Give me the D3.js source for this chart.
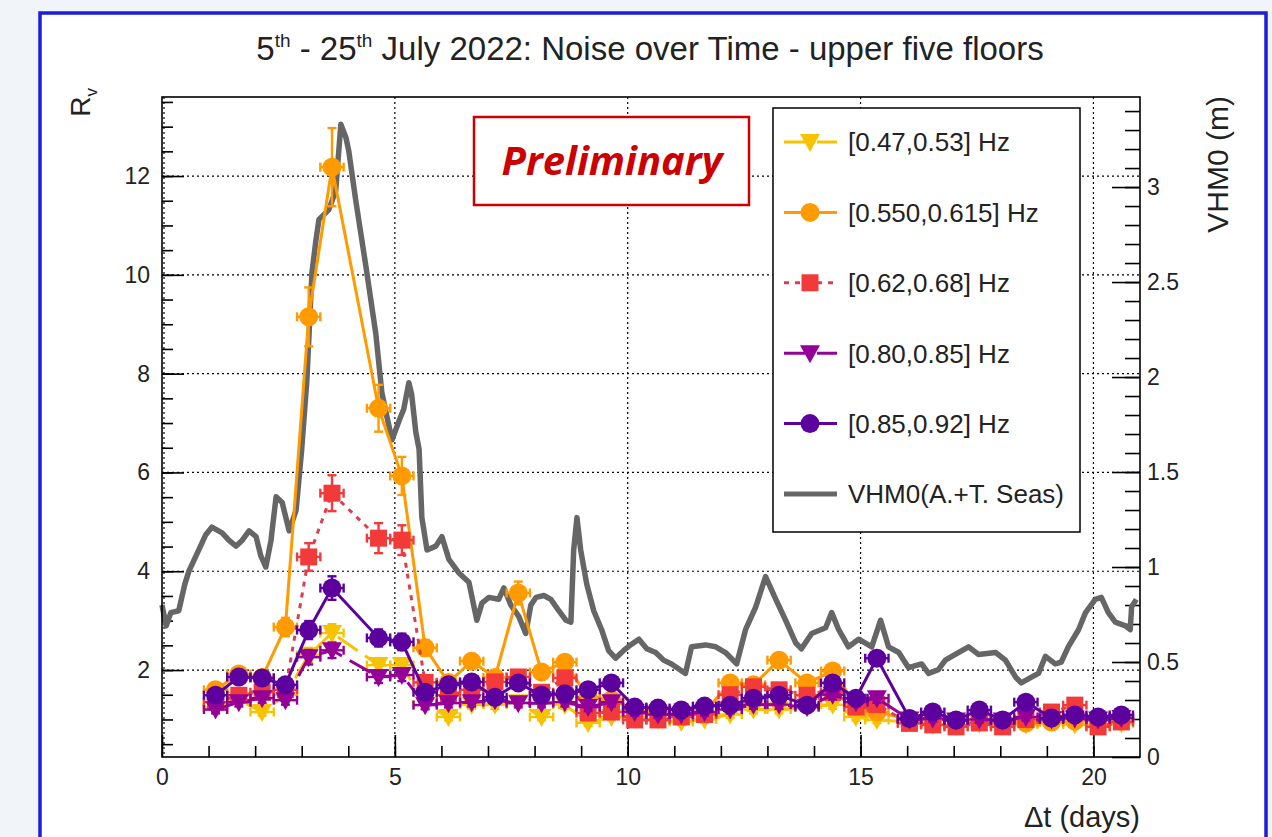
<!DOCTYPE html>
<html>
<head>
<meta charset="utf-8">
<script src="https://cdn.jsdelivr.net/npm/d3@7"></script>
<style>
  body { margin: 0; background: #f1f5f9; }
  svg text { font-family: "Liberation Sans", Arial, sans-serif; fill: #222; }
</style>
</head>
<body>
<script>
// time of each measurement window (days since 5th July)
var days = [1.15, 1.65, 2.15, 2.65, 3.15, 3.65, 4.65, 5.15, 5.65, 6.15, 6.65, 7.15, 7.65, 8.15, 8.65, 9.15, 9.65, 10.15, 10.65,
            11.15, 11.65, 12.2, 12.7, 13.25, 13.85, 14.4, 14.9, 15.35, 16.05, 16.55, 17.05, 17.55, 18.05, 18.55, 19.1, 19.6, 20.1, 20.6];

var band047 = [1.25, 1.40, 1.15, 1.50, 2.30, 2.75, 2.10, 2.10, 1.30, 1.05, 1.30, 1.30, 1.35, 1.05, 1.30, 0.93, 1.05, 1.05, 1.00,
               0.95, 1.00, 1.10, 1.20, 1.20, 1.25, 1.30, 1.05, 0.99, 0.95, 0.90, 0.88, 0.92, 0.88, 0.90, 0.95, 0.90, 0.88, 0.92];
var band055 = [1.60, 1.92, 1.85, 2.87, 9.15, 12.18, 7.30, 5.93, 2.45, 1.75, 2.18, 1.85, 3.56, 1.96, 2.16, 1.45, 1.40, 1.20, 1.15,
               1.10, 1.15, 1.74, 1.70, 2.20, 1.74, 1.98, 1.30, 1.15, 1.00, 1.00, 0.98, 0.97, 0.95, 0.93, 0.95, 0.97, 0.98, 1.00];
var band062 = [1.35, 1.49, 1.55, 1.60, 4.29, 5.58, 4.67, 4.63, 1.75, 1.49, 1.60, 1.76, 1.86, 1.55, 1.84, 1.13, 1.15, 0.99, 0.99,
               1.05, 1.10, 1.50, 1.66, 1.60, 1.49, 1.55, 1.25, 1.30, 0.92, 0.89, 0.85, 0.93, 0.85, 1.00, 1.15, 1.29, 0.85, 0.95];
var band080 = [1.20, 1.35, 1.43, 1.39, 2.26, 2.40, 1.86, 1.90, 1.29, 1.33, 1.35, 1.39, 1.33, 1.33, 1.35, 1.25, 1.35, 1.15, 1.10,
               1.10, 1.15, 1.20, 1.30, 1.30, 1.25, 1.50, 1.35, 1.43, 1.00, 1.02, 0.98, 1.00, 0.98, 1.05, 1.00, 1.02, 1.00, 1.03];
var band085 = [1.49, 1.86, 1.84, 1.70, 2.81, 3.66, 2.65, 2.57, 1.55, 1.70, 1.76, 1.45, 1.74, 1.49, 1.52, 1.60, 1.74, 1.25, 1.23,
               1.19, 1.27, 1.29, 1.43, 1.49, 1.29, 1.74, 1.43, 2.24, 1.02, 1.15, 0.99, 1.19, 0.99, 1.35, 1.03, 1.09, 1.05, 1.09];

// significant wave height (right axis)
var vhmDays = [0, 0.09, 0.19, 0.36, 0.49, 0.58, 0.79, 0.94, 1.07, 1.29, 1.44, 1.59, 1.72, 1.87, 2.02, 2.12, 2.23, 2.34, 2.45, 2.58,
               2.73, 2.88, 3.0, 3.11, 3.22, 3.30, 3.37, 3.58, 3.73, 3.84, 3.95, 4.01, 4.16, 4.38, 4.59, 4.72, 4.83, 4.94, 5.09, 5.19,
               5.30, 5.36, 5.45, 5.52, 5.58, 5.69, 5.88, 6.01, 6.16, 6.37, 6.59, 6.76, 6.87, 7.02, 7.23, 7.34, 7.49, 7.66, 7.81, 7.92,
               8.03, 8.20, 8.35, 8.52, 8.67, 8.78, 8.84, 8.91, 8.99, 9.12, 9.27, 9.44, 9.59, 9.74, 9.91, 10.06, 10.24, 10.41, 10.60, 10.77,
               10.94, 11.24, 11.37, 11.67, 11.89, 12.10, 12.34, 12.53, 12.75, 12.96, 13.18, 13.39, 13.61, 13.73, 13.95, 14.25, 14.38, 14.53, 14.74, 14.96,
               15.24, 15.43, 15.60, 15.82, 16.03, 16.31, 16.46, 16.67, 16.82, 17.10, 17.32, 17.53, 17.90, 18.11, 18.33, 18.45, 18.67, 18.82, 18.97, 19.18,
               19.31, 19.46, 19.68, 19.83, 20.04, 20.17, 20.32, 20.47, 20.69, 20.79, 20.82, 20.92];
var vhmHeight = [0.80, 0.69, 0.76, 0.77, 0.91, 0.98, 1.09, 1.17, 1.21, 1.18, 1.14, 1.11, 1.14, 1.19, 1.16, 1.06, 1.00, 1.14, 1.37, 1.34,
                 1.19, 1.30, 1.62, 1.98, 2.55, 2.71, 2.83, 2.88, 2.98, 3.33, 3.26, 3.19, 2.93, 2.58, 2.23, 1.92, 1.79, 1.67, 1.77, 1.83,
                 1.97, 1.91, 1.71, 1.62, 1.26, 1.09, 1.11, 1.16, 1.04, 0.97, 0.92, 0.72, 0.81, 0.84, 0.83, 0.89, 0.80, 0.74, 0.65, 0.80,
                 0.84, 0.85, 0.83, 0.77, 0.72, 0.71, 1.09, 1.26, 1.09, 0.91, 0.77, 0.67, 0.56, 0.52, 0.56, 0.59, 0.62, 0.57, 0.55, 0.51,
                 0.49, 0.44, 0.58, 0.59, 0.58, 0.55, 0.49, 0.67, 0.79, 0.95, 0.83, 0.72, 0.60, 0.57, 0.65, 0.68, 0.76, 0.67, 0.58, 0.62,
                 0.58, 0.72, 0.58, 0.55, 0.47, 0.49, 0.44, 0.46, 0.51, 0.55, 0.58, 0.54, 0.55, 0.51, 0.42, 0.39, 0.42, 0.44, 0.53, 0.49,
                 0.50, 0.58, 0.67, 0.76, 0.83, 0.84, 0.76, 0.71, 0.69, 0.67, 0.79, 0.83];

var bandLabels = ["[0.47,0.53] Hz", "[0.550,0.615] Hz", "[0.62,0.68] Hz", "[0.80,0.85] Hz", "[0.85,0.92] Hz"];
var bandValues = [band047, band055, band062, band080, band085];
var bandColors = ["#f7c300", "#ff9a00", "#f23a3a", "#950098", "#5c009e"];
var lineColors = ["#f7c300", "#ff9a00", "#d8404f", "#950098", "#5c009e"];
var bandDash = ["24,9", null, "5,6", "24,9", null];
var bandShape = ["tri", "circle", "square", "tri", "circle"];
var relErr = 0.065;   // vertical error, relative
var halfWidth = 0.25; // horizontal error, days

var W = 1272, H = 837;
var pLeft = 162, pRight = 1140, pTop = 97, pBottom = 757;

var svg = d3.select("body").append("svg").attr("width", W).attr("height", H);

svg.append("rect").attr("x", 0).attr("y", 0).attr("width", W).attr("height", H).attr("fill", "#f1f5f9");
svg.append("rect").attr("x", 40).attr("y", 13).attr("width", 1226).attr("height", 840)
   .attr("fill", "#ffffff").attr("stroke", "#1d1ddb").attr("stroke-width", 3.5);

// Scales
var x = d3.scaleLinear().domain([0, 21]).range([pLeft, pRight]);
var yL = d3.scaleLinear().domain([0.24, 13.6]).range([pBottom, pTop]);
var yR = d3.scaleLinear().domain([0, 3.474]).range([pBottom, pTop]);

// Grid
var grid = svg.append("g").attr("stroke", "#000").attr("stroke-width", 1.2).attr("stroke-dasharray", "2,3");
grid.selectAll(".gx").data([5, 10, 15, 20]).enter().append("line")
    .attr("x1", function (d) { return x(d); }).attr("x2", function (d) { return x(d); })
    .attr("y1", pTop).attr("y2", pBottom);
grid.selectAll(".gy").data([2, 4, 6, 8, 10, 12]).enter().append("line")
    .attr("x1", pLeft).attr("x2", pRight)
    .attr("y1", function (d) { return yL(d); }).attr("y2", function (d) { return yL(d); });
grid.append("line").attr("x1", pLeft + 2).attr("x2", pLeft + 2).attr("y1", pTop).attr("y2", pBottom);

// Axes
function styleAxis(g, size) {
    g.select(".domain").remove();
    g.selectAll(".tick line").attr("stroke", "#000").attr("stroke-width", 1.6);
    g.selectAll("text").style("font-size", size + "px").style("font-family", "Liberation Sans, Arial, sans-serif").attr("fill", "#222");
}

var xMajor = svg.append("g").attr("transform", "translate(0," + pBottom + ")")
    .call(d3.axisBottom(x).tickValues([0, 5, 10, 15, 20]).tickSize(-22).tickPadding(12).tickFormat(d3.format("d")));
styleAxis(xMajor, 23);
var xMinor = svg.append("g").attr("transform", "translate(0," + pBottom + ")")
    .call(d3.axisBottom(x).tickValues(d3.range(1, 21)).tickSize(-11).tickFormat(""));
styleAxis(xMinor, 20);

var yMajor = svg.append("g").attr("transform", "translate(" + pLeft + ",0)")
    .call(d3.axisLeft(yL).tickValues([2, 4, 6, 8, 10, 12]).tickSize(-22).tickPadding(12).tickFormat(d3.format("d")));
styleAxis(yMajor, 23);
var yMinor = svg.append("g").attr("transform", "translate(" + pLeft + ",0)")
    .call(d3.axisLeft(yL).tickValues(d3.range(0.5, 13.6, 0.5)).tickSize(-11).tickFormat(""));
styleAxis(yMinor, 20);

var rMajor = svg.append("g").attr("transform", "translate(" + pRight + ",0)")
    .call(d3.axisRight(yR).tickValues([0, 0.5, 1, 1.5, 2, 2.5, 3]).tickSize(-28).tickPadding(7).tickFormat(d3.format("")));
styleAxis(rMajor, 23);
var rMinor = svg.append("g").attr("transform", "translate(" + pRight + ",0)")
    .call(d3.axisRight(yR).tickValues(d3.range(0.1, 3.45, 0.1)).tickSize(-15).tickFormat(""));
styleAxis(rMinor, 20);

// Wave height line
var vhm = vhmDays.map(function (d, i) { return [d, vhmHeight[i]]; });
svg.append("path").datum(vhm)
    .attr("fill", "none").attr("stroke", "#666666").attr("stroke-width", 5.5).attr("stroke-linejoin", "round")
    .attr("d", d3.line().x(function (d) { return x(d[0]); }).y(function (d) { return yR(d[1]); }));

// Marker helper
function marker(sel, shape, color) {
    if (shape === "circle") {
        sel.append("circle").attr("r", 9.5).attr("fill", color);
    } else if (shape === "square") {
        sel.append("rect").attr("x", -8.5).attr("y", -8.5).attr("width", 17).attr("height", 17).attr("fill", color);
    } else {
        sel.append("path").attr("d", "M-10,-8L10,-8L0,10Z").attr("fill", color);
    }
}

// Noise series
bandValues.forEach(function (vals, k) {
    var pts = days.map(function (d, i) { return { t: d, v: vals[i] }; });
    var g = svg.append("g");
    g.append("path").datum(pts)
        .attr("fill", "none").attr("stroke", lineColors[k]).attr("stroke-width", 3)
        .attr("stroke-dasharray", bandDash[k])
        .attr("d", d3.line().x(function (d) { return x(d.t); }).y(function (d) { return yL(d.v); }));

    var eb = g.selectAll(".eb").data(pts).enter().append("g")
        .attr("stroke", bandColors[k]).attr("stroke-width", 2.4);
    eb.append("line")
        .attr("x1", function (d) { return x(d.t - halfWidth); }).attr("x2", function (d) { return x(d.t + halfWidth); })
        .attr("y1", function (d) { return yL(d.v); }).attr("y2", function (d) { return yL(d.v); });
    eb.append("line")
        .attr("x1", function (d) { return x(d.t - halfWidth); }).attr("x2", function (d) { return x(d.t - halfWidth); })
        .attr("y1", function (d) { return yL(d.v) - 4.5; }).attr("y2", function (d) { return yL(d.v) + 4.5; });
    eb.append("line")
        .attr("x1", function (d) { return x(d.t + halfWidth); }).attr("x2", function (d) { return x(d.t + halfWidth); })
        .attr("y1", function (d) { return yL(d.v) - 4.5; }).attr("y2", function (d) { return yL(d.v) + 4.5; });
    eb.append("line")
        .attr("x1", function (d) { return x(d.t); }).attr("x2", function (d) { return x(d.t); })
        .attr("y1", function (d) { return yL(d.v * (1 - relErr)); }).attr("y2", function (d) { return yL(d.v * (1 + relErr)); });
    eb.append("line")
        .attr("x1", function (d) { return x(d.t) - 4.5; }).attr("x2", function (d) { return x(d.t) + 4.5; })
        .attr("y1", function (d) { return yL(d.v * (1 + relErr)); }).attr("y2", function (d) { return yL(d.v * (1 + relErr)); });
    eb.append("line")
        .attr("x1", function (d) { return x(d.t) - 4.5; }).attr("x2", function (d) { return x(d.t) + 4.5; })
        .attr("y1", function (d) { return yL(d.v * (1 - relErr)); }).attr("y2", function (d) { return yL(d.v * (1 - relErr)); });

    g.selectAll(".mk").data(pts).enter().append("g")
        .attr("transform", function (d) { return "translate(" + x(d.t) + "," + yL(d.v) + ")"; })
        .each(function () { marker(d3.select(this), bandShape[k], bandColors[k]); });
});

// Frame
svg.append("rect").attr("x", pLeft).attr("y", pTop).attr("width", pRight - pLeft).attr("height", pBottom - pTop)
    .attr("fill", "none").attr("stroke", "#000").attr("stroke-width", 1.6);

// Preliminary box
svg.append("rect").attr("x", 474).attr("y", 117).attr("width", 275).attr("height", 88)
    .attr("fill", "#fff").attr("stroke", "#cc0000").attr("stroke-width", 2.5);
svg.append("text").attr("x", 612).attr("y", 175).attr("text-anchor", "middle")
    .style("font-family", "Open Sans, sans-serif").style("font-weight", "bold").style("font-style", "italic")
    .style("font-size", "40px").style("fill", "#cc0000").text("Preliminary");

// Legend
var leg = svg.append("g");
leg.append("rect").attr("x", 773).attr("y", 108).attr("width", 307).attr("height", 424)
    .attr("fill", "#fff").attr("stroke", "#000").attr("stroke-width", 1.5);
bandLabels.forEach(function (lab, k) {
    var ly = 142 + k * 70.4;
    leg.append("line").attr("x1", 784).attr("x2", 837).attr("y1", ly).attr("y2", ly)
        .attr("stroke", lineColors[k]).attr("stroke-width", 3).attr("stroke-dasharray", bandDash[k]);
    var m = leg.append("g").attr("transform", "translate(810," + ly + ")");
    marker(m, bandShape[k], bandColors[k]);
    leg.append("text").attr("x", 848).attr("y", ly).attr("dy", "0.36em").style("font-size", "26px").text(lab);
});
var ly6 = 142 + 5 * 70.4;
leg.append("line").attr("x1", 784).attr("x2", 837).attr("y1", ly6).attr("y2", ly6)
    .attr("stroke", "#666").attr("stroke-width", 5);
leg.append("text").attr("x", 848).attr("y", ly6).attr("dy", "0.36em").style("font-size", "26px").text("VHM0(A.+T. Seas)");

// Title
var title = svg.append("text").attr("x", 650).attr("y", 60).attr("text-anchor", "middle").style("font-size", "33px");
title.append("tspan").text("5");
title.append("tspan").attr("dy", -13).style("font-size", "19px").text("th");
title.append("tspan").attr("dy", 13).text(" - 25");
title.append("tspan").attr("dy", -13).style("font-size", "19px").text("th");
title.append("tspan").attr("dy", 13).text(" July 2022: Noise over Time - upper five floors");

// Axis titles
var yt = svg.append("text").attr("transform", "translate(90,88) rotate(-90)").attr("text-anchor", "end").style("font-size", "28px");
yt.append("tspan").text("R");
yt.append("tspan").attr("dy", 7).style("font-size", "17px").text("v");

svg.append("text").attr("transform", "translate(1228,96) rotate(-90)").attr("text-anchor", "end")
    .style("font-size", "30px").text("VHM0 (m)");

svg.append("text").attr("x", 1140).attr("y", 827).attr("text-anchor", "end").style("font-size", "29px").text("Δt (days)");
</script>
</body>
</html>
